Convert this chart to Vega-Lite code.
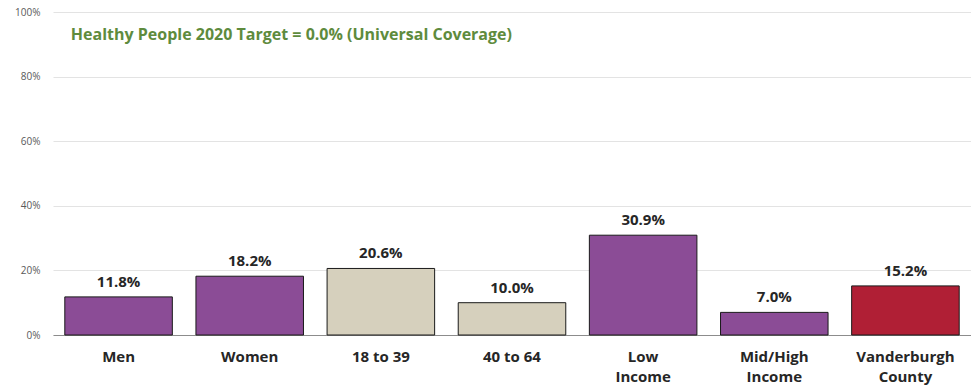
{
  "$schema": "https://vega.github.io/schema/vega-lite/v6.json",
  "autosize": {"type": "none"},
  "width": 918,
  "height": 323,
  "padding": {"left": 53, "top": 12, "right": 0, "bottom": 50},
  "background": "white",
  "config": {"view": {"stroke": null}, "font": "Open Sans"},
  "title": {
    "text": "(Among Adults Aged 18-64; Vanderburgh County, 2015)",
    "fontSize": 21,
    "fontWeight": "normal",
    "color": "#262626",
    "font": "Open Sans",
    "anchor": "middle",
    "baseline": "alphabetic",
    "offset": 0,
    "dx": -31,
    "dy": 7
  },
  "data": {
    "values": [
      {"category": "Men", "pct": 11.8, "group": "Sex"},
      {"category": "Women", "pct": 18.2, "group": "Sex"},
      {"category": "18 to 39", "pct": 20.6, "group": "Age"},
      {"category": "40 to 64", "pct": 10.0, "group": "Age"},
      {"category": "Low Income", "pct": 30.9, "group": "Income"},
      {"category": "Mid/High Income", "pct": 7.0, "group": "Income"},
      {"category": "Vanderburgh County", "pct": 15.2, "group": "Overall"}
    ]
  },
  "encoding": {
    "x": {
      "field": "category",
      "type": "nominal",
      "sort": null,
      "scale": {"paddingInner": 0.18, "paddingOuter": 0.09},
      "axis": {
        "title": null,
        "labelAngle": 0,
        "ticks": false,
        "labelPadding": 21,
        "labelFontSize": 15,
        "labelFontWeight": "bold",
        "labelColor": "#262626",
        "labelLineHeight": 20,
        "labelBaseline": "middle",
        "domainColor": "#8c8c8c",
        "domainWidth": 1,
        "labelExpr": "indexof(datum.label, 'Income') > 0 || indexof(datum.label, 'County') > 0 ? split(datum.label, ' ') : datum.label"
      }
    }
  },
  "layer": [
    {
      "mark": {"type": "bar", "stroke": "#1a1a1a", "strokeWidth": 1},
      "encoding": {
        "y": {
          "field": "pct",
          "type": "quantitative",
          "scale": {"domain": [0, 100], "nice": false},
          "axis": {
            "title": null,
            "values": [0, 20, 40, 60, 80, 100],
            "labelExpr": "datum.value + '%'",
            "labelFontSize": 10,
            "labelColor": "#595959",
            "labelPadding": 13,
            "ticks": false,
            "domain": false,
            "gridColor": "#e3e3e3",
            "gridWidth": 1
          }
        },
        "color": {
          "field": "group",
          "type": "nominal",
          "scale": {"domain": ["Sex", "Age", "Income", "Overall"], "range": ["#8b4c96", "#d6d0bd", "#8b4c96", "#b01f35"]},
          "legend": null
        }
      }
    },
    {
      "mark": {"type": "text", "baseline": "bottom", "dy": -7, "fontSize": 15, "fontWeight": "bold", "color": "#262626", "text": {"expr": "format(datum.pct, '.1f') + '%'"}},
      "encoding": {
        "y": {"field": "pct", "type": "quantitative"}
      }
    },
    {
      "data": {"values": [{"category": "Men", "pct": 93, "note": "Healthy People 2020 Target = 0.0% (Universal Coverage)"}]},
      "mark": {"type": "text", "align": "left", "baseline": "middle", "dx": 6, "fontSize": 16, "fontWeight": "bold", "color": "#5e8b3d"},
      "encoding": {
        "x": {"field": "category", "type": "nominal", "bandPosition": 0},
        "y": {"field": "pct", "type": "quantitative"},
        "text": {"field": "note"}
      }
    }
  ]
}
